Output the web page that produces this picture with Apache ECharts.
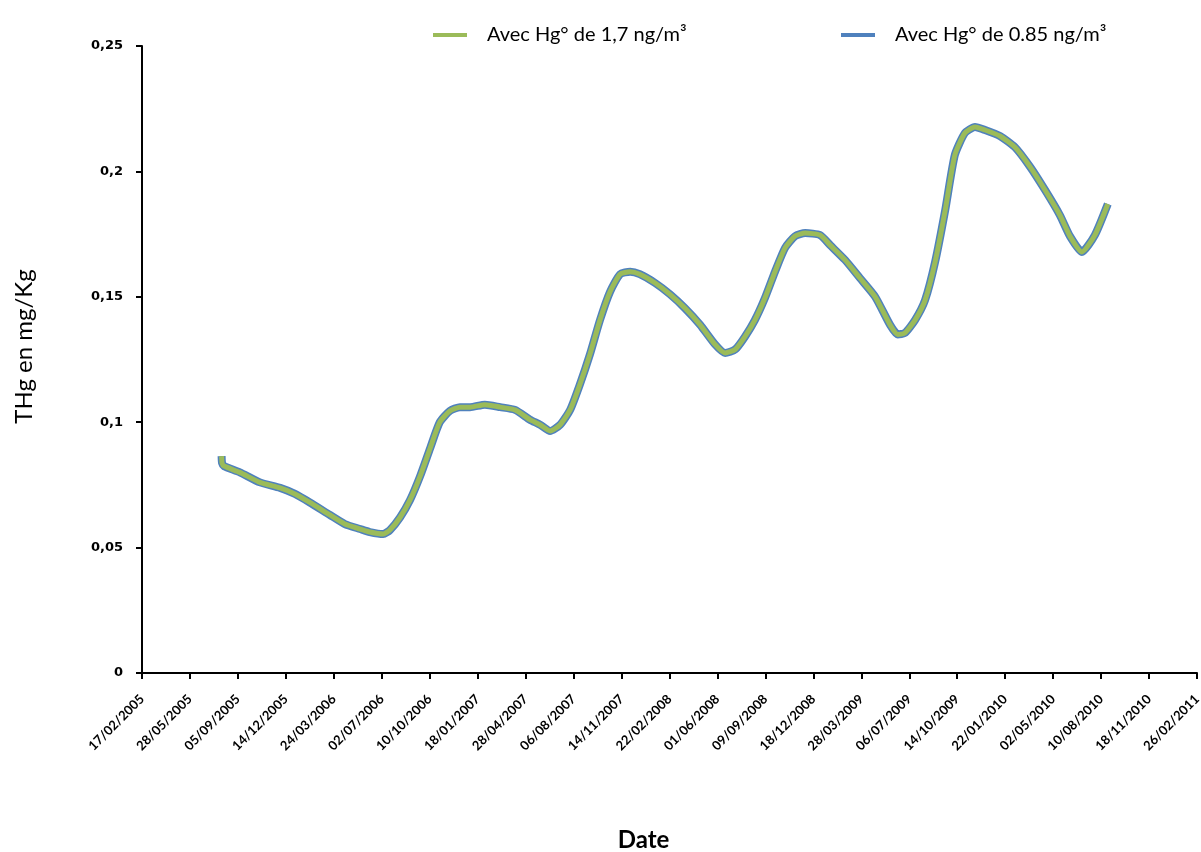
<!DOCTYPE html>
<html>
<head>
<meta charset="utf-8">
<script src="https://cdn.jsdelivr.net/npm/echarts@6/dist/echarts.min.js"></script>
<style>html,body{margin:0;padding:0;background:#fff}#c{width:1201px;height:852px}</style>
</head>
<body>
<div id="c"></div>
<script>
const startDate = '2005-02-17';
const endDate = '2011-02-26';
const tickDays = 100;
const yTicks = [0, 0.05, 0.1, 0.15, 0.2, 0.25];
const seriesNames = ['Avec Hg° de 1,7 ng/m³', 'Avec Hg° de 0.85 ng/m³'];
const dates = [
 '2005-08-02','2005-08-03','2005-08-07','2005-09-09','2005-10-21','2005-12-02','2006-01-02','2006-02-02',
 '2006-03-16','2006-04-16','2006-05-18','2006-06-07','2006-07-05','2006-07-19','2006-08-09','2006-08-30',
 '2006-09-20','2006-10-11','2006-10-31','2006-11-21','2006-12-12','2007-01-02','2007-02-02','2007-03-06',
 '2007-04-06','2007-05-07','2007-05-28','2007-06-18','2007-07-09','2007-07-30','2007-08-19','2007-09-09',
 '2007-09-30','2007-10-21','2007-11-11','2007-12-02','2007-12-22','2008-01-23','2008-02-23','2008-03-25',
 '2008-04-26','2008-05-27','2008-06-17','2008-07-08','2008-07-28','2008-08-18','2008-09-08','2008-09-29',
 '2008-10-20','2008-11-10','2008-12-01','2009-01-01','2009-01-22','2009-02-22','2009-03-25','2009-04-26',
 '2009-05-27','2009-06-12','2009-06-27','2009-07-18','2009-08-08','2009-08-29','2009-09-19','2009-10-09',
 '2009-10-30','2009-11-20','2009-12-11','2010-01-11','2010-02-11','2010-03-15','2010-04-15','2010-05-16',
 '2010-06-06','2010-07-01','2010-07-28','2010-08-24'
];
const valuesHigh = [
 0.0865,0.0837,0.0825,0.0800,0.0760,0.0738,0.0714,0.0680,
 0.0630,0.0594,0.0574,0.0562,0.0554,0.0570,0.0620,0.0690,
 0.0785,0.0897,0.1000,0.1045,0.1060,0.1060,0.1070,0.1060,
 0.1049,0.1010,0.0990,0.0965,0.0990,0.1050,0.1150,0.1270,
 0.1407,0.1520,0.1590,0.1600,0.1590,0.1555,0.1510,0.1455,
 0.1388,0.1310,0.1276,0.1290,0.1340,0.1407,0.1495,0.1600,
 0.1695,0.1742,0.1754,0.1746,0.1706,0.1647,0.1575,0.1500,
 0.1388,0.1350,0.1356,0.1407,0.1487,0.1640,0.1846,0.2065,
 0.2153,0.2177,0.2165,0.2141,0.2097,0.2018,0.1926,0.1826,
 0.1742,0.1679,0.1746,0.1870
];
const valuesLow = valuesHigh.slice();

const DAY = 86400000;
const t0 = Date.parse(startDate + 'T00:00:00Z');
const toDay = s => Math.round((Date.parse(s + 'T00:00:00Z') - t0) / DAY);
const maxDay = toDay(endDate);
const pad = n => (n < 10 ? '0' : '') + n;
const fmtDay = d => { const dt = new Date(t0 + d * DAY); return pad(dt.getUTCDate()) + '/' + pad(dt.getUTCMonth() + 1) + '/' + dt.getUTCFullYear(); };

const font = 'Lato, "Noto Sans", sans-serif';
const legendCommon = {
  top: 20, itemWidth: 34, itemHeight: 4, icon: 'rect',
  textStyle: {fontFamily: font, fontSize: 20, color: '#000', padding: [0, 0, 0, 15]}
};
const chart = echarts.init(document.getElementById('c'), null, {renderer: 'canvas'});
chart.setOption({
  animation: false,
  backgroundColor: '#fff',
  grid: {left: 142, right: 4, top: 46, bottom: 179, containLabel: false, outerBoundsMode: 'none'},
  legend: [
    Object.assign({left: 428, data: [seriesNames[0]]}, legendCommon),
    Object.assign({left: 836, data: [seriesNames[1]]}, legendCommon)
  ],
  xAxis: {
    type: 'value', min: 0, max: maxDay, interval: tickDays,
    name: 'Date', nameLocation: 'middle', nameGap: 155,
    nameTextStyle: {fontFamily: font, fontSize: 24, fontWeight: 'bold', color: '#000', padding: [0, 52, 0, 0]},
    axisLine: {lineStyle: {color: '#000', width: 2}},
    axisTick: {show: true, length: 6, lineStyle: {color: '#000', width: 2}},
    splitLine: {show: false},
    axisLabel: {rotate: 45, fontFamily: font, fontSize: 13, fontWeight: 'bold', color: '#000', margin: 24, formatter: v => fmtDay(v)}
  },
  yAxis: {
    type: 'value', min: yTicks[0], max: yTicks[yTicks.length - 1], interval: 0.05,
    name: 'THg en mg/Kg', nameLocation: 'middle', nameGap: 106,
    nameTextStyle: {fontFamily: font, fontSize: 24, color: '#000', padding: [0, 0, 0, 26]},
    axisLine: {show: true, lineStyle: {color: '#000', width: 2}},
    axisTick: {show: true, length: 6, lineStyle: {color: '#000', width: 2}},
    splitLine: {show: false},
    axisLabel: {fontFamily: '"DejaVu Sans", sans-serif', fontSize: 13, fontWeight: 'bold', color: '#000', margin: 19,
      formatter: v => String(+v.toFixed(2)).replace('.', ',')}
  },
  series: [
    {name: seriesNames[1], type: 'line', showSymbol: false, symbol: 'none', smooth: 0.2, z: 2,
     lineStyle: {color: '#4F81BD', width: 8}, itemStyle: {color: '#4F81BD'},
     data: dates.map((d, i) => [toDay(d), valuesLow[i]])},
    {name: seriesNames[0], type: 'line', showSymbol: false, symbol: 'none', smooth: 0.2, z: 3,
     lineStyle: {color: '#9BBB59', width: 5}, itemStyle: {color: '#9BBB59'},
     data: dates.map((d, i) => [toDay(d), valuesHigh[i]])}
  ]
});
</script>
</body>
</html>
